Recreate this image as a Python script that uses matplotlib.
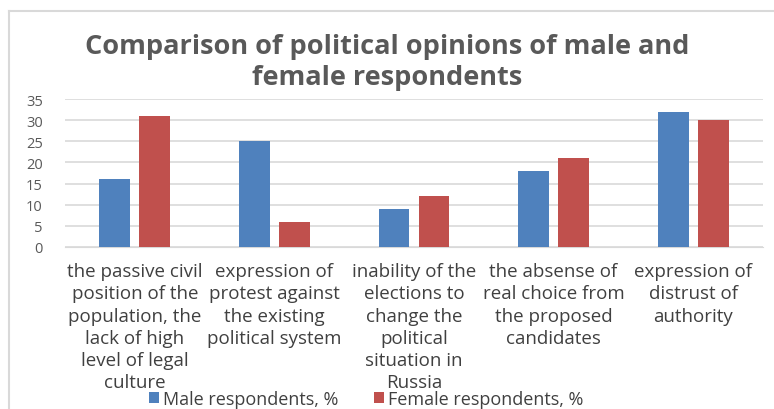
import numpy as np
import matplotlib
matplotlib.use('Agg')
import matplotlib.pyplot as plt

categories = ['the passive civil\nposition of the\npopulation, the\nlack of high\nlevel of legal\nculture',
              'expression of\nprotest against\nthe existing\npolitical system',
              'inability of the\nelections to\nchange the\npolitical\nsituation in\nRussia',
              'the absense of\nreal choice from\nthe proposed\ncandidates',
              'expression of\ndistrust of\nauthority']
male = [16, 25, 9, 18, 32]
female = [31, 6, 12, 21, 30]
series_names = ['Male respondents, %', 'Female respondents, %']
yticks = [0, 5, 10, 15, 20, 25, 30, 35]

font = 'Open Sans'

W, H = 774, 410
fig = plt.figure(figsize=(W/100, H/100), dpi=100)
# chart frame (left and top edges visible)
fig.add_artist(plt.Line2D([9/W, 9/W], [0, 1 - 12/H], color='#d9d9d9', lw=1.5))
fig.add_artist(plt.Line2D([9/W, 1], [1 - 12/H, 1 - 12/H], color='#d9d9d9', lw=1.5))

ax = fig.add_axes([65/W, 1 - 248/H, (763-65)/W, (248-100)/H])
x = np.arange(len(categories))
bw = 0.22
ax.bar(x - 0.143, male, bw, color='#4f81bd', label=series_names[0], zorder=3)
ax.bar(x + 0.143, female, bw, color='#c0504d', label=series_names[1], zorder=3)
ax.set_xlim(-0.5, len(categories) - 0.5)
ax.set_ylim(0, 35)
ax.set_yticks(yticks)
ax.yaxis.grid(True, color='#d9d9d9', lw=1.2, zorder=0)
for s in ['top', 'right', 'left']:
    ax.spines[s].set_visible(False)
ax.spines['bottom'].set_color('#d9d9d9')
ax.tick_params(axis='both', length=0)
ax.tick_params(axis='y', labelsize=10.5, labelcolor='#595959', pad=16)
for lab in ax.get_yticklabels():
    lab.set_fontfamily(font)
ax.set_xticks(x)
ax.set_xticklabels(categories, fontsize=13.5, family=font, color='#404040', linespacing=1.3)
ax.tick_params(axis='x', pad=11)

fig.text(0.5, 1 - 47/H, 'Comparison of political opinions of male and', ha='center', va='center',
         fontsize=19.5, fontweight='bold', color='#595959', family=font)
fig.text(0.5, 1 - 78/H, 'female respondents', ha='center', va='center',
         fontsize=19.5, fontweight='bold', color='#595959', family=font)

leg = fig.legend(loc='center', bbox_to_anchor=(366/W, 1 - 400/H), ncol=2, frameon=False,
                 prop={'family': font, 'size': 13}, handlelength=0.55, handleheight=0.55,
                 handletextpad=0.2, columnspacing=2.0, borderpad=0)
for t in leg.get_texts():
    t.set_color('#404040')

fig.savefig('out.png', dpi=100)
